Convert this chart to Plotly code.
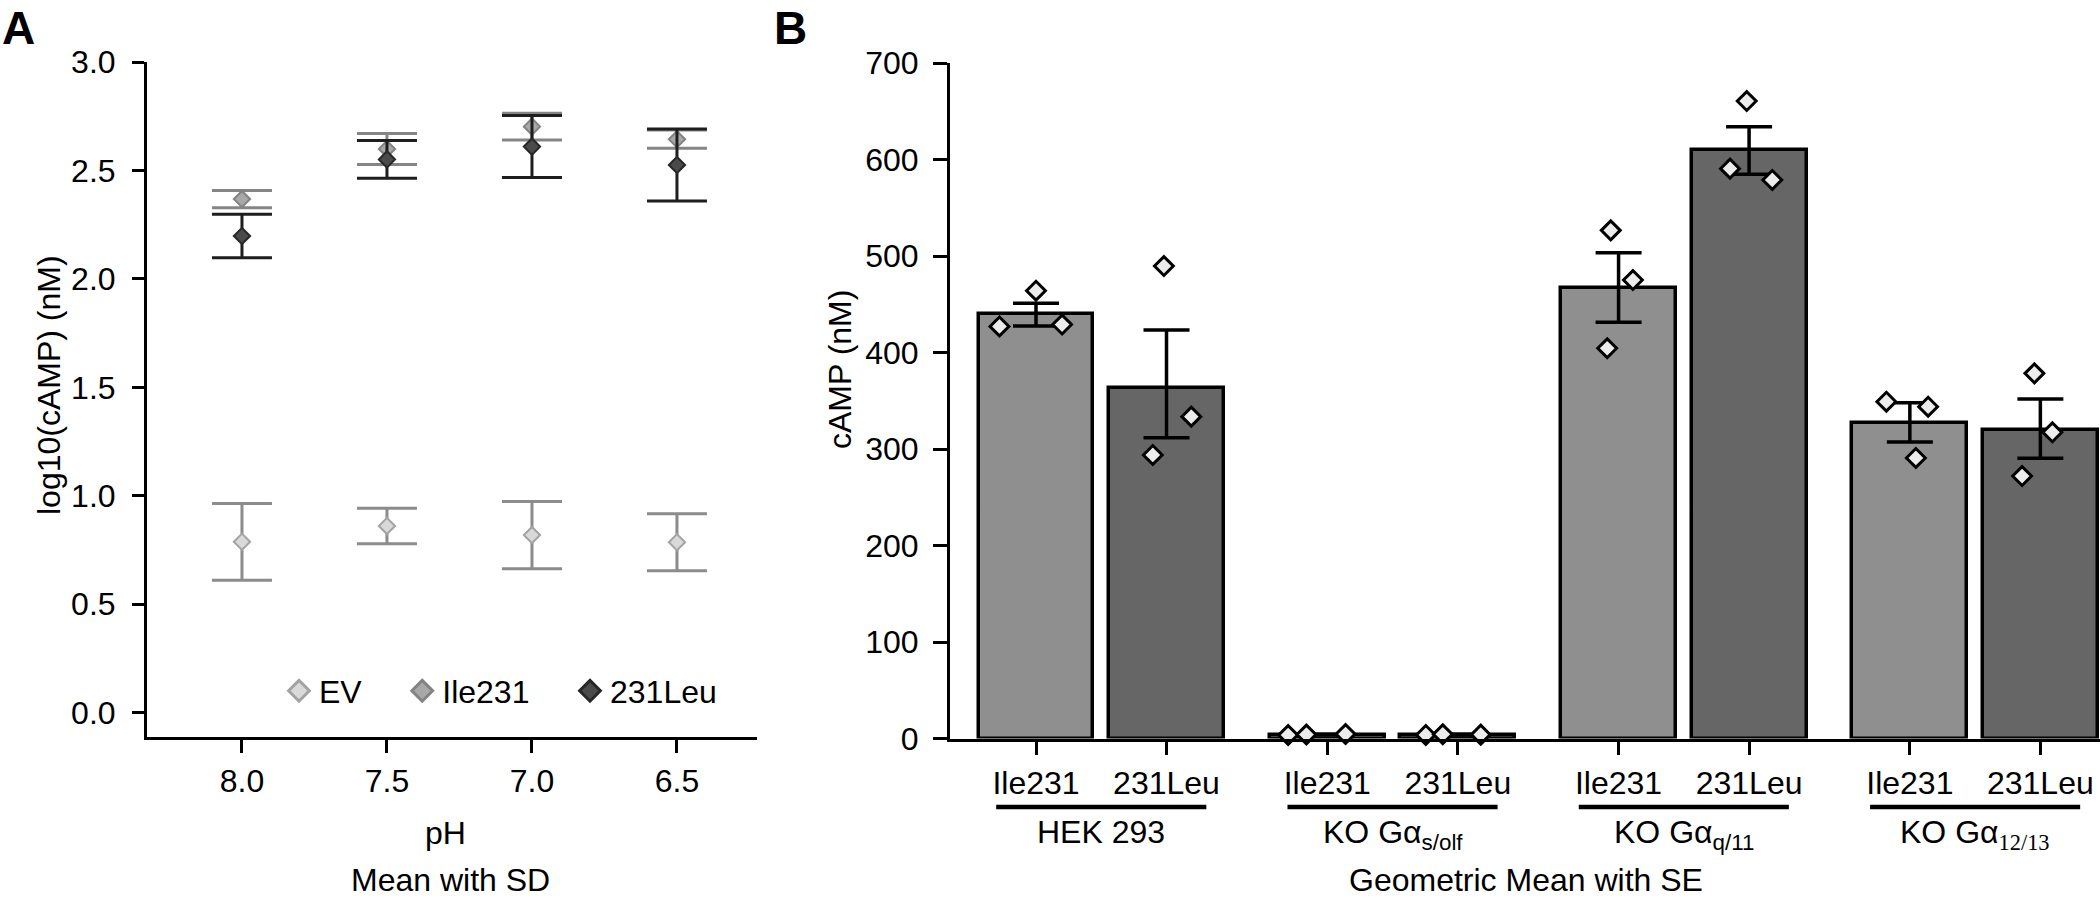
import plotly.graph_objects as go

# ---------------- Panel A data (log10 cAMP, mean with SD) ----------------
ph_labels = ["8.0", "7.5", "7.0", "6.5"]
ev_mean = [0.788, 0.861, 0.819, 0.786]
ev_sd = [0.177, 0.082, 0.155, 0.131]
ile_mean = [2.368, 2.599, 2.702, 2.644]
ile_sd = [0.040, 0.071, 0.062, 0.042]
leu_mean = [2.198, 2.551, 2.610, 2.525]
leu_sd = [0.100, 0.087, 0.143, 0.166]

# ---------------- Panel B data (cAMP nM, geometric mean with SE) ----------------
groups = [
    "HEK 293",
    "KO Gα<sub>s/olf</sub>",
    "KO Gα<sub>q/11</sub>",
    "KO Gα<sub><span style='font-family:Liberation Serif'>12/13</span></sub>",
]
variants = ["Ile231", "231Leu"]
ile_gm = [439.6, 4.0, 466.5, 326.6]
ile_hi = [451.0, 4.5, 503.4, 348.0]
ile_lo = [427.5, 3.5, 431.3, 307.3]
ile_pts = [[427.0, 464.0, 429.0], [3.6, 4.1, 4.6], [526.6, 475.1, 404.4], [349.0, 343.8, 290.7]]
leu_gm = [363.5, 4.0, 609.8, 319.3]
leu_hi = [423.3, 4.5, 634.0, 351.8]
leu_lo = [311.7, 3.5, 584.7, 290.5]
leu_pts = [[489.6, 333.5, 293.8], [3.7, 4.4, 4.0], [660.6, 590.5, 578.8], [378.4, 317.3, 272.0]]

# horizontal scatter of replicate points (fraction of a bar slot)
ile_jit = [[-0.28, 0.0, 0.2], [-0.3, -0.16, 0.14], [-0.06, 0.11, -0.087], [-0.18, 0.14, 0.046]]
leu_jit = [[-0.02, 0.19, -0.105], [-0.245, -0.115, 0.176], [-0.018, -0.146, 0.178], [-0.046, 0.092, -0.14]]

FONT = "Arial, Liberation Sans, sans-serif"
FS = 32
W, H = 2100, 898
GROUP_PITCH = 2.232
BAR_W = 0.88


def py(px):
    return 1 - px / H


def pxx(px):
    return px / W


fig = go.Figure()

# ---------------- Panel A ----------------
xa = list(range(len(ph_labels)))
nb = "\u00a0"
specA = [
    ("EV" + nb * 4, ev_mean, ev_sd, "#8c8c8c", "#d9d9d9", "#a3a3a3"),
    ("Ile231" + nb * 4, ile_mean, ile_sd, "#858585", "#a8a8a8", "#838383"),
    ("231Leu", leu_mean, leu_sd, "#1e1e1e", "#4a4a4a", "#272727"),
]
for i, (name, m, sd, ecol, fill, line) in enumerate(specA):
    fig.add_trace(go.Scatter(
        x=xa, y=m, mode="markers", name=name, legendgroup=f"g{i}",
        marker=dict(symbol="diamond", size=12.5, color=fill, line=dict(color=line, width=2)),
        error_y=dict(type="data", array=sd, color=ecol, thickness=3, width=30),
        xaxis="x", yaxis="y", showlegend=False,
    ))
# legend entries (no data, larger symbols)
for i, (name, m, sd, ecol, fill, line) in enumerate(specA):
    fig.add_trace(go.Scatter(
        x=[None], y=[None], mode="markers", name=name, legendgroup=f"g{i}",
        marker=dict(symbol="diamond", size=16, color=fill, line=dict(color=line, width=3)),
        xaxis="x", yaxis="y", showlegend=True,
    ))

# ---------------- Panel B ----------------
def pos(g, b):
    return g * GROUP_PITCH + b

for b, (gm, hi, lo, fill) in enumerate([
    (ile_gm, ile_hi, ile_lo, "#8f8f8f"),
    (leu_gm, leu_hi, leu_lo, "#666666"),
]):
    xs = [pos(g, b) for g in range(len(groups))]
    fig.add_trace(go.Bar(
        x=xs, y=gm, width=BAR_W,
        marker=dict(color=fill, line=dict(color="black", width=3.5)),
        error_y=dict(type="data", symmetric=False,
                     array=[h - m for h, m in zip(hi, gm)],
                     arrayminus=[m - l for m, l in zip(gm, lo)],
                     color="black", thickness=3.5, width=23),
        xaxis="x2", yaxis="y2", showlegend=False,
    ))

px_, py_ = [], []
for b, (pts, jit) in enumerate([(ile_pts, ile_jit), (leu_pts, leu_jit)]):
    for g in range(len(groups)):
        for v, j in zip(pts[g], jit[g]):
            px_.append(pos(g, b) + j)
            py_.append(v)
fig.add_trace(go.Scatter(
    x=px_, y=py_, mode="markers",
    marker=dict(symbol="diamond", size=14.5, color="#ececec", line=dict(color="black", width=3)),
    xaxis="x2", yaxis="y2", showlegend=False, cliponaxis=False,
))

tickvals_b = [pos(g, b) for g in range(len(groups)) for b in range(2)]
ticktext_b = [variants[b] for g in range(len(groups)) for b in range(2)]

axis_common = dict(showgrid=False, zeroline=False, showline=True, linecolor="black", linewidth=3,
                   ticks="outside", tickcolor="black", tickwidth=3, automargin=False,
                   tickfont=dict(family=FONT, size=FS, color="black"))

fig.update_layout(
    template="none",
    width=W, height=H, autosize=False, margin=dict(l=0, r=0, t=0, b=0, pad=0),
    paper_bgcolor="white", plot_bgcolor="white",
    font=dict(family=FONT, size=FS, color="black"),
    xaxis=dict(domain=[pxx(147), pxx(757)], range=[-0.655, 3.552], tickvals=xa, ticktext=ph_labels,
               ticklen=13, anchor="y", ticklabelstandoff=1, **axis_common),
    yaxis=dict(domain=[py(737), py(62)], range=[-0.112, 3.0], tickvals=[0, 0.5, 1, 1.5, 2, 2.5, 3],
               ticktext=["0.0", "0.5", "1.0", "1.5", "2.0", "2.5", "3.0"], ticklen=12, anchor="x",
               ticklabelstandoff=10, **axis_common),
    xaxis2=dict(domain=[pxx(950), 1.0], range=[-0.659, 8.153], tickvals=tickvals_b, ticktext=ticktext_b,
                ticklen=13, anchor="y2", ticklabelstandoff=1, **axis_common),
    yaxis2=dict(domain=[py(738.5), py(63)], range=[0, 700], tickvals=list(range(0, 701, 100)),
                ticklen=14, anchor="x2", ticklabelstandoff=8, **axis_common),
    legend=dict(orientation="h", x=pxx(279), y=py(691), xanchor="left", yanchor="middle",
                font=dict(family=FONT, size=FS, color="black"), bgcolor="rgba(0,0,0,0)"),
    bargap=0,
)

# group lines and labels under panel B
for g, lab in enumerate(groups):
    c = pos(g, 0.5)
    fig.add_shape(type="line", xref="x2", yref="paper", x0=c - 0.805, x1=c + 0.805,
                  y0=py(807), y1=py(807), line=dict(color="black", width=4.5))
    fig.add_annotation(xref="x2", yref="paper", x=c, y=py(812), xanchor="center", yanchor="top",
                       text=lab, showarrow=False, font=dict(family=FONT, size=FS, color="black"))

ann = [
    dict(x=pxx(0), y=1.0, text="<b>A</b>", xanchor="left", yanchor="top", font=dict(size=46)),
    dict(x=pxx(772), y=1.0, text="<b>B</b>", xanchor="left", yanchor="top", font=dict(size=46)),
    dict(x=pxx(445), y=py(833), text="pH", xanchor="center", yanchor="middle"),
    dict(x=pxx(450), y=py(880), text="Mean with SD", xanchor="center", yanchor="middle"),
    dict(x=pxx(1526), y=py(880), text="Geometric Mean with SE", xanchor="center", yanchor="middle"),
    dict(x=pxx(49), y=py(385), text="log10(cAMP) (nM)", textangle=-90, xanchor="center", yanchor="middle"),
    dict(x=pxx(840), y=py(370), text="cAMP (nM)", textangle=-90, xanchor="center", yanchor="middle"),
]
for a in ann:
    f = dict(family=FONT, size=FS, color="black")
    f.update(a.pop("font", {}))
    fig.add_annotation(xref="paper", yref="paper", showarrow=False, font=f, **a)

fig.write_html(
    "out.html",
    config={"displayModeBar": False, "responsive": False},
    post_script="document.body.style.margin='0';document.documentElement.style.overflow='hidden';document.body.style.overflow='hidden';",
)
